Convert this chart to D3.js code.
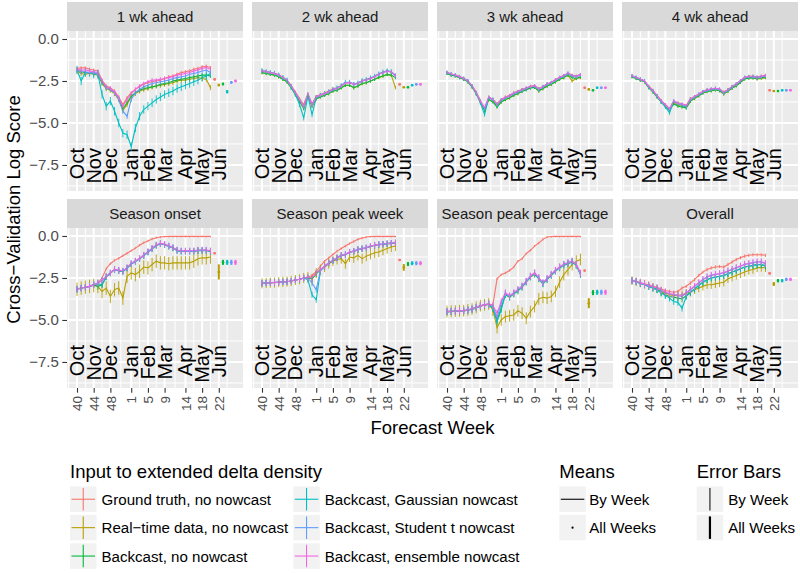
<!DOCTYPE html>
<html><head><meta charset="utf-8">
<script src="https://cdn.jsdelivr.net/npm/d3@7"></script>
<style>body{margin:0;background:#fff}svg{display:block;font-family:"Liberation Sans",Arial,sans-serif}</style>
</head><body><svg id="c" width="800" height="573"></svg>
<script>
// ---------- data ----------
const seriesNames = ["Ground truth, no nowcast","Real\u2212time data, no nowcast","Backcast, no nowcast","Backcast, Gaussian nowcast","Backcast, Student t nowcast","Backcast, ensemble nowcast"];
const seriesColors = ["#F8766D","#B79F00","#00BA38","#00BFC4","#619CFF","#F564E3"];
const panelTitles = ["1 wk ahead","2 wk ahead","3 wk ahead","4 wk ahead","Season onset","Season peak week","Season peak percentage","Overall"];
const seasonWeeks = [40,41,42,43,44,45,46,47,48,49,50,51,52,1,2,3,4,5,6,7,8,9,10,11,12,13,14,15,16,17,18,19,20];
const tickWeeks = [40,44,48,1,5,9,14,18,22];
const tickMonths = ["Oct","Nov","Dec","Jan","Feb","Mar","Apr","May","Jun"];
const yTickValues = [0,-2.5,-5,-7.5];

// 1 wk ahead
const wk1_truth    = [-1.75,-1.72,-1.72,-1.8,-1.85,-1.9,-2.45,-2.8,-2.9,-3.1,-3.45,-3.9,-3.5,-3.2,-3.0,-2.85,-2.7,-2.6,-2.55,-2.5,-2.45,-2.35,-2.25,-2.2,-2.1,-2.0,-1.95,-1.9,-1.8,-1.75,-1.65,-1.62,-1.7];
const wk1_realtime = [-1.9,-2.05,-2.1,-2.05,-2.1,-2.15,-2.65,-2.95,-3.05,-3.25,-3.6,-4.25,-3.9,-3.45,-3.25,-3.1,-3.0,-2.95,-2.85,-2.8,-2.75,-2.7,-2.65,-2.6,-2.5,-2.45,-2.45,-2.4,-2.35,-2.3,-2.35,-2.4,-2.9];
const wk1_backcast = [-1.85,-1.95,-2.0,-2.0,-2.05,-2.1,-2.6,-2.9,-3.0,-3.2,-3.55,-4.15,-3.8,-3.4,-3.2,-3.05,-2.95,-2.9,-2.85,-2.8,-2.7,-2.65,-2.6,-2.5,-2.45,-2.4,-2.35,-2.3,-2.25,-2.2,-2.15,-2.15,-2.2];
const wk1_gauss    = [-1.85,-2.5,-2.0,-2.0,-2.1,-2.1,-3.3,-4.0,-3.7,-4.3,-5.0,-5.6,-5.7,-6.4,-5.3,-4.6,-4.2,-4.0,-3.8,-3.6,-3.45,-3.3,-3.2,-3.1,-2.95,-2.85,-2.75,-2.65,-2.55,-2.45,-2.3,-2.2,-2.05];
const wk1_student  = [-1.85,-1.95,-1.95,-2.0,-2.0,-2.05,-2.55,-2.9,-3.0,-3.2,-3.6,-4.3,-4.6,-3.6,-3.2,-3.0,-2.85,-2.75,-2.65,-2.6,-2.55,-2.5,-2.45,-2.35,-2.3,-2.25,-2.2,-2.1,-2.05,-2.0,-1.9,-1.85,-2.0];
const wk1_ensemble = [-1.8,-1.85,-1.85,-1.9,-1.95,-2.0,-2.5,-2.85,-2.95,-3.15,-3.5,-4.0,-3.6,-3.25,-3.0,-2.8,-2.65,-2.55,-2.45,-2.45,-2.4,-2.35,-2.3,-2.25,-2.15,-2.1,-2.05,-2.0,-1.9,-1.85,-1.75,-1.7,-1.8];
const wk1_allMean  = [-2.4,-2.74,-2.68,-3.14,-2.58,-2.5];
const wk1_errWeek  = [0.1,0.15,0.12,0.25,0.15,0.12];
const wk1_errAll   = [0.08,0.08,0.08,0.1,0.08,0.08];

// 2 wk ahead
const wk2_truth    = [-1.88,-1.93,-2.0,-2.05,-2.12,-2.28,-2.45,-2.78,-3.15,-3.55,-3.9,-3.25,-3.85,-3.4,-3.3,-3.2,-3.1,-2.97,-2.9,-2.78,-2.6,-2.58,-2.68,-2.62,-2.48,-2.42,-2.33,-2.22,-2.08,-1.98,-1.9,-1.98,-2.15];
const wk2_realtime = [-2.0,-2.05,-2.1,-2.15,-2.25,-2.4,-2.55,-2.9,-3.3,-3.7,-4.1,-3.4,-4.0,-3.55,-3.45,-3.35,-3.25,-3.1,-3.05,-2.9,-2.75,-2.75,-2.9,-2.8,-2.65,-2.6,-2.5,-2.4,-2.3,-2.2,-2.1,-2.15,-2.9];
const wk2_backcast = [-2.0,-2.05,-2.1,-2.15,-2.25,-2.4,-2.55,-2.9,-3.3,-3.7,-4.15,-3.4,-4.0,-3.55,-3.45,-3.35,-3.25,-3.1,-3.05,-2.9,-2.75,-2.75,-2.9,-2.8,-2.65,-2.6,-2.5,-2.4,-2.28,-2.2,-2.12,-2.15,-2.3];
const wk2_gauss    = [-1.88,-1.95,-2.0,-2.05,-2.15,-2.3,-2.45,-2.85,-3.3,-3.9,-4.7,-3.4,-4.5,-3.5,-3.35,-3.25,-3.15,-3.0,-2.92,-2.78,-2.58,-2.58,-2.7,-2.62,-2.48,-2.42,-2.32,-2.22,-2.08,-1.98,-1.9,-1.95,-2.2];
const wk2_student  = [-1.9,-1.95,-2.0,-2.05,-2.15,-2.3,-2.45,-2.8,-3.2,-3.6,-4.0,-3.3,-3.9,-3.45,-3.35,-3.25,-3.15,-3.0,-2.95,-2.8,-2.6,-2.6,-2.7,-2.65,-2.5,-2.45,-2.35,-2.25,-2.1,-2.0,-1.9,-1.95,-2.2];
const wk2_ensemble = [-1.9,-1.95,-2.0,-2.05,-2.15,-2.3,-2.45,-2.8,-3.2,-3.6,-4.05,-3.3,-3.95,-3.45,-3.35,-3.25,-3.15,-3.0,-2.95,-2.8,-2.62,-2.6,-2.7,-2.65,-2.5,-2.45,-2.35,-2.25,-2.1,-2.0,-1.92,-1.95,-2.2];
const wk2_allMean  = [-2.7,-2.87,-2.87,-2.75,-2.7,-2.7];
const wk2_errWeek  = [0.08,0.1,0.1,0.15,0.1,0.08];
const wk2_errAll   = [0.06,0.06,0.06,0.06,0.06,0.06];

// 3 wk ahead
const wk3_truth    = [-2.0,-2.08,-2.15,-2.22,-2.35,-2.5,-2.78,-3.15,-3.65,-4.2,-3.45,-3.6,-3.85,-3.6,-3.45,-3.35,-3.2,-3.1,-3.0,-2.92,-2.82,-2.78,-2.95,-2.85,-2.68,-2.58,-2.42,-2.28,-2.18,-2.05,-2.15,-2.2,-2.1];
const wk3_realtime = [-2.05,-2.15,-2.2,-2.3,-2.4,-2.55,-2.85,-3.25,-3.75,-4.2,-3.6,-3.7,-4.0,-3.75,-3.6,-3.5,-3.35,-3.25,-3.1,-3.0,-2.9,-2.85,-3.1,-2.95,-2.8,-2.7,-2.55,-2.4,-2.3,-2.15,-2.5,-2.35,-2.3];
const wk3_backcast = [-2.05,-2.15,-2.2,-2.3,-2.4,-2.55,-2.85,-3.25,-3.75,-4.25,-3.6,-3.75,-4.05,-3.75,-3.6,-3.5,-3.35,-3.25,-3.12,-3.02,-2.92,-2.88,-3.08,-2.95,-2.8,-2.7,-2.55,-2.4,-2.3,-2.15,-2.3,-2.35,-2.25];
const wk3_gauss    = [-2.0,-2.1,-2.15,-2.25,-2.35,-2.5,-2.82,-3.25,-3.8,-4.5,-3.5,-3.6,-3.95,-3.65,-3.5,-3.4,-3.25,-3.15,-3.05,-2.95,-2.85,-2.8,-3.0,-2.85,-2.7,-2.6,-2.45,-2.3,-2.2,-2.05,-2.2,-2.25,-2.15];
const wk3_student  = [-2.0,-2.1,-2.15,-2.25,-2.35,-2.5,-2.8,-3.2,-3.7,-4.15,-3.5,-3.6,-3.9,-3.65,-3.5,-3.4,-3.25,-3.15,-3.05,-2.95,-2.85,-2.8,-3.0,-2.85,-2.7,-2.6,-2.45,-2.3,-2.2,-2.05,-2.2,-2.25,-2.15];
const wk3_ensemble = [-1.98,-2.08,-2.15,-2.25,-2.35,-2.5,-2.8,-3.2,-3.7,-4.1,-3.45,-3.6,-3.9,-3.62,-3.48,-3.38,-3.22,-3.12,-3.02,-2.92,-2.83,-2.78,-2.98,-2.83,-2.68,-2.58,-2.43,-2.28,-2.18,-2.03,-2.18,-2.22,-2.12];
const wk3_allMean  = [-2.9,-3.0,-3.05,-2.9,-2.9,-2.9];
const wk3_errWeek  = [0.08,0.1,0.1,0.12,0.1,0.08];
const wk3_errAll   = [0.06,0.06,0.06,0.06,0.06,0.06];

// 4 wk ahead
const wk4_truth    = [-2.18,-2.3,-2.38,-2.5,-2.8,-3.05,-3.35,-3.65,-3.9,-4.15,-3.7,-3.8,-3.85,-3.95,-3.55,-3.42,-3.28,-3.12,-3.03,-2.98,-2.95,-3.0,-3.15,-3.0,-2.82,-2.68,-2.48,-2.28,-2.22,-2.2,-2.25,-2.2,-2.15];
const wk4_realtime = [-2.25,-2.35,-2.45,-2.55,-2.9,-3.15,-3.45,-3.75,-4.0,-4.25,-3.8,-3.95,-4.0,-4.1,-3.7,-3.55,-3.38,-3.22,-3.12,-3.08,-3.02,-3.08,-3.28,-3.12,-2.92,-2.78,-2.58,-2.38,-2.32,-2.32,-2.38,-2.35,-2.3];
const wk4_backcast = [-2.25,-2.35,-2.45,-2.55,-2.9,-3.15,-3.45,-3.75,-4.0,-4.25,-3.85,-4.0,-4.05,-4.1,-3.7,-3.52,-3.38,-3.22,-3.12,-3.08,-3.02,-3.08,-3.25,-3.1,-2.92,-2.78,-2.58,-2.38,-2.32,-2.3,-2.35,-2.3,-2.28];
const wk4_gauss    = [-2.2,-2.3,-2.4,-2.5,-2.85,-3.1,-3.4,-3.75,-4.05,-4.4,-3.7,-3.85,-3.95,-4.05,-3.6,-3.45,-3.3,-3.15,-3.05,-3.0,-2.95,-3.0,-3.2,-3.05,-2.85,-2.7,-2.5,-2.3,-2.25,-2.25,-2.3,-2.25,-2.2];
const wk4_student  = [-2.2,-2.3,-2.4,-2.5,-2.85,-3.1,-3.4,-3.7,-3.95,-4.2,-3.7,-3.85,-3.9,-4.0,-3.6,-3.45,-3.3,-3.15,-3.05,-3.0,-2.95,-3.0,-3.2,-3.05,-2.85,-2.7,-2.5,-2.3,-2.25,-2.25,-2.3,-2.25,-2.2];
const wk4_ensemble = [-2.2,-2.28,-2.4,-2.5,-2.82,-3.08,-3.38,-3.68,-3.92,-4.15,-3.68,-3.82,-3.88,-3.98,-3.58,-3.43,-3.28,-3.13,-3.03,-2.98,-2.93,-2.98,-3.18,-3.03,-2.83,-2.68,-2.48,-2.28,-2.23,-2.23,-2.28,-2.23,-2.18];
const wk4_allMean  = [-3.05,-3.1,-3.1,-3.05,-3.05,-3.05];
const wk4_errWeek  = [0.08,0.1,0.1,0.12,0.1,0.08];
const wk4_errAll   = [0.06,0.06,0.06,0.06,0.06,0.06];

// Season onset
const onset_truth    = [-3.17,-3.1,-3.05,-3.0,-2.9,-2.8,-2.5,-1.95,-1.65,-1.45,-1.33,-1.18,-1.03,-0.88,-0.72,-0.55,-0.4,-0.3,-0.18,-0.1,-0.06,-0.03,-0.02,-0.02,-0.02,-0.02,-0.02,-0.02,-0.02,-0.02,-0.02,-0.02,-0.02];
const onset_realtime = [-3.17,-3.1,-3.05,-3.0,-2.95,-3.0,-3.3,-3.1,-3.6,-3.2,-3.1,-3.7,-2.4,-2.2,-2.3,-2.1,-1.85,-1.9,-1.7,-1.5,-1.6,-1.6,-1.65,-1.6,-1.6,-1.6,-1.6,-1.6,-1.5,-1.35,-1.3,-1.3,-1.25];
const onset_backcast = [-3.17,-3.1,-3.05,-3.0,-2.9,-3.0,-2.9,-2.45,-2.22,-2.0,-2.08,-2.12,-1.92,-1.67,-1.52,-1.37,-1.17,-0.97,-0.77,-0.57,-0.47,-0.52,-0.62,-0.72,-0.87,-0.92,-0.92,-0.92,-0.92,-0.88,-0.88,-0.88,-0.92];
const onset_gauss    = [-3.17,-3.1,-3.05,-3.0,-2.9,-2.85,-2.9,-2.42,-2.2,-2.0,-2.05,-2.1,-1.9,-1.65,-1.5,-1.35,-1.15,-0.95,-0.75,-0.55,-0.45,-0.5,-0.6,-0.7,-0.85,-0.9,-0.9,-0.9,-0.9,-0.85,-0.85,-0.85,-0.9];
const onset_student  = [-3.17,-3.1,-3.05,-3.0,-2.9,-2.8,-2.65,-2.4,-2.2,-2.0,-2.05,-2.1,-1.9,-1.65,-1.5,-1.35,-1.15,-0.95,-0.75,-0.55,-0.45,-0.5,-0.6,-0.7,-0.85,-0.9,-0.9,-0.9,-0.9,-0.85,-0.85,-0.85,-0.9];
const onset_ensemble = [-3.17,-3.1,-3.05,-3.0,-2.9,-2.8,-2.65,-2.4,-2.2,-1.98,-2.03,-2.08,-1.88,-1.63,-1.48,-1.33,-1.13,-0.93,-0.73,-0.53,-0.43,-0.48,-0.58,-0.68,-0.83,-0.88,-0.88,-0.88,-0.88,-0.83,-0.83,-0.83,-0.88];
const onset_allMean  = [-1.03,-2.14,-1.57,-1.57,-1.57,-1.57];
const onset_errWeek  = [0.07,0.4,0.18,0.18,0.2,0.18];
const onset_errAll   = [0.05,0.45,0.15,0.15,0.15,0.15];

// Season peak week
const pkwk_truth    = [-2.82,-2.8,-2.78,-2.77,-2.75,-2.73,-2.72,-2.68,-2.62,-2.58,-2.5,-2.45,-2.35,-2.1,-1.8,-1.5,-1.3,-1.1,-0.9,-0.75,-0.6,-0.45,-0.33,-0.2,-0.12,-0.06,-0.03,-0.02,-0.02,-0.02,-0.02,-0.02,-0.02];
const pkwk_realtime = [-2.82,-2.8,-2.78,-2.77,-2.75,-2.73,-2.72,-2.68,-2.62,-2.58,-2.5,-2.45,-2.55,-2.2,-2.0,-1.85,-1.65,-1.5,-1.4,-1.35,-1.65,-1.25,-1.3,-1.15,-1.35,-1.2,-1.1,-1.0,-0.95,-0.85,-0.75,-0.65,-0.6];
const pkwk_backcast = [-2.82,-2.8,-2.78,-2.77,-2.75,-2.73,-2.72,-2.68,-2.62,-2.58,-2.5,-2.48,-2.55,-2.25,-2.02,-1.82,-1.62,-1.47,-1.32,-1.17,-1.12,-0.97,-0.92,-0.82,-0.77,-0.72,-0.62,-0.57,-0.52,-0.5,-0.47,-0.44,-0.42];
const pkwk_gauss    = [-2.82,-2.8,-2.78,-2.77,-2.75,-2.73,-2.72,-2.68,-2.62,-2.58,-2.5,-2.6,-3.5,-3.8,-2.1,-1.8,-1.6,-1.45,-1.3,-1.15,-1.1,-0.95,-0.9,-0.8,-0.75,-0.7,-0.6,-0.55,-0.5,-0.48,-0.45,-0.42,-0.4];
const pkwk_student  = [-2.82,-2.8,-2.78,-2.77,-2.75,-2.73,-2.72,-2.68,-2.62,-2.58,-2.5,-2.5,-2.8,-3.2,-2.05,-1.8,-1.6,-1.45,-1.3,-1.15,-1.1,-0.95,-0.9,-0.8,-0.75,-0.7,-0.6,-0.55,-0.5,-0.48,-0.45,-0.42,-0.4];
const pkwk_ensemble = [-2.82,-2.8,-2.78,-2.77,-2.75,-2.73,-2.72,-2.68,-2.62,-2.58,-2.5,-2.45,-2.5,-2.2,-2.0,-1.8,-1.6,-1.45,-1.3,-1.15,-1.1,-0.95,-0.9,-0.8,-0.75,-0.7,-0.6,-0.55,-0.5,-0.48,-0.45,-0.42,-0.4];
const pkwk_allMean  = [-1.43,-1.87,-1.67,-1.62,-1.62,-1.62];
const pkwk_errWeek  = [0.07,0.3,0.18,0.18,0.18,0.18];
const pkwk_errAll   = [0.05,0.2,0.12,0.12,0.12,0.12];

// Season peak percentage
const pkpct_truth    = [-4.5,-4.48,-4.47,-4.45,-4.45,-4.4,-4.35,-4.25,-4.15,-4.1,-4.05,-4.1,-2.55,-2.3,-2.2,-2.05,-1.85,-1.5,-1.35,-1.05,-0.85,-0.6,-0.42,-0.2,-0.06,-0.03,-0.02,-0.02,-0.02,-0.02,-0.02,-0.02,-0.02];
const pkpct_realtime = [-4.5,-4.48,-4.47,-4.45,-4.45,-4.4,-4.35,-4.25,-4.15,-4.1,-4.05,-4.4,-5.45,-5.0,-4.8,-4.75,-4.7,-4.45,-4.6,-4.9,-4.5,-4.2,-3.75,-3.65,-3.7,-3.6,-3.3,-2.75,-2.3,-2.0,-1.7,-1.5,-1.4];
const pkpct_backcast = [-4.52,-4.5,-4.48,-4.47,-4.46,-4.42,-4.37,-4.28,-4.18,-4.12,-4.08,-4.3,-5.0,-4.3,-3.5,-3.65,-3.45,-3.28,-3.05,-2.75,-2.45,-2.28,-2.55,-2.85,-2.6,-2.35,-2.1,-1.9,-1.75,-1.65,-1.55,-1.75,-2.3];
const pkpct_gauss    = [-4.5,-4.48,-4.47,-4.45,-4.45,-4.4,-4.35,-4.25,-4.15,-4.1,-4.05,-4.3,-5.1,-4.4,-3.45,-3.6,-3.42,-3.22,-3.02,-2.72,-2.42,-2.22,-2.52,-2.82,-2.57,-2.32,-2.07,-1.87,-1.72,-1.62,-1.52,-1.72,-2.27];
const pkpct_student  = [-4.5,-4.48,-4.47,-4.45,-4.45,-4.4,-4.35,-4.25,-4.15,-4.1,-4.05,-4.2,-4.85,-4.0,-3.4,-3.6,-3.4,-3.2,-3.0,-2.7,-2.4,-2.2,-2.5,-2.8,-2.55,-2.3,-2.05,-1.85,-1.7,-1.6,-1.5,-1.7,-2.25];
const pkpct_ensemble = [-4.5,-4.48,-4.47,-4.45,-4.45,-4.4,-4.35,-4.25,-4.15,-4.1,-4.05,-4.15,-4.6,-3.9,-3.38,-3.55,-3.38,-3.18,-2.98,-2.68,-2.38,-2.18,-2.48,-2.78,-2.53,-2.28,-2.03,-1.83,-1.68,-1.58,-1.5,-1.68,-2.2];
const pkpct_allMean  = [-2.06,-4.0,-3.37,-3.35,-3.35,-3.35];
const pkpct_errWeek  = [0.07,0.35,0.2,0.2,0.2,0.2];
const pkpct_errAll   = [0.05,0.3,0.15,0.15,0.15,0.15];

// Overall
const all_truth    = [-2.66,-2.7,-2.78,-2.85,-2.9,-3.0,-3.05,-3.15,-3.25,-3.3,-3.35,-3.3,-3.1,-3.0,-2.8,-2.6,-2.35,-2.15,-2.0,-1.9,-1.85,-1.82,-1.85,-1.7,-1.55,-1.4,-1.3,-1.2,-1.15,-1.12,-1.12,-1.12,-1.15];
const all_realtime = [-2.66,-2.72,-2.8,-2.88,-2.95,-3.05,-3.15,-3.3,-3.4,-3.5,-3.55,-3.55,-3.5,-3.4,-3.35,-3.2,-3.1,-3.0,-2.9,-2.9,-2.85,-2.8,-2.75,-2.55,-2.45,-2.35,-2.25,-2.15,-2.05,-2.0,-1.9,-1.87,-1.9];
const all_backcast = [-2.66,-2.72,-2.82,-2.9,-3.0,-3.1,-3.2,-3.35,-3.5,-3.6,-3.65,-3.7,-3.75,-3.55,-3.35,-3.15,-2.95,-2.75,-2.6,-2.5,-2.45,-2.4,-2.35,-2.25,-2.15,-2.05,-1.95,-1.85,-1.8,-1.75,-1.7,-1.7,-1.8];
const all_gauss    = [-2.66,-2.72,-2.82,-2.9,-3.0,-3.1,-3.2,-3.4,-3.55,-3.7,-3.9,-3.95,-4.3,-3.6,-3.35,-3.15,-2.95,-2.75,-2.6,-2.5,-2.45,-2.4,-2.35,-2.25,-2.15,-2.05,-1.95,-1.85,-1.8,-1.75,-1.72,-1.7,-1.75];
const all_student  = [-2.66,-2.72,-2.8,-2.88,-2.95,-3.05,-3.1,-3.25,-3.35,-3.45,-3.5,-3.55,-3.6,-3.4,-3.2,-3.0,-2.8,-2.6,-2.45,-2.35,-2.3,-2.25,-2.2,-2.1,-2.0,-1.9,-1.8,-1.7,-1.65,-1.6,-1.55,-1.55,-1.65];
const all_ensemble = [-2.66,-2.7,-2.78,-2.86,-2.93,-3.03,-3.08,-3.22,-3.33,-3.42,-3.48,-3.52,-3.55,-3.38,-3.18,-2.98,-2.78,-2.58,-2.43,-2.33,-2.28,-2.23,-2.18,-2.08,-1.98,-1.88,-1.78,-1.68,-1.63,-1.58,-1.53,-1.53,-1.62];
const all_allMean  = [-2.22,-2.86,-2.66,-2.66,-2.58,-2.58];
const all_errWeek  = [0.1,0.25,0.2,0.2,0.2,0.2];
const all_errAll   = [0.08,0.12,0.1,0.1,0.1,0.1];

// ---------- assemble ----------
const panels = [
  {series:[wk1_truth,wk1_realtime,wk1_backcast,wk1_gauss,wk1_student,wk1_ensemble], mean:wk1_allMean, errW:wk1_errWeek, errA:wk1_errAll},
  {series:[wk2_truth,wk2_realtime,wk2_backcast,wk2_gauss,wk2_student,wk2_ensemble], mean:wk2_allMean, errW:wk2_errWeek, errA:wk2_errAll},
  {series:[wk3_truth,wk3_realtime,wk3_backcast,wk3_gauss,wk3_student,wk3_ensemble], mean:wk3_allMean, errW:wk3_errWeek, errA:wk3_errAll},
  {series:[wk4_truth,wk4_realtime,wk4_backcast,wk4_gauss,wk4_student,wk4_ensemble], mean:wk4_allMean, errW:wk4_errWeek, errA:wk4_errAll},
  {series:[onset_truth,onset_realtime,onset_backcast,onset_gauss,onset_student,onset_ensemble], mean:onset_allMean, errW:onset_errWeek, errA:onset_errAll},
  {series:[pkwk_truth,pkwk_realtime,pkwk_backcast,pkwk_gauss,pkwk_student,pkwk_ensemble], mean:pkwk_allMean, errW:pkwk_errWeek, errA:pkwk_errAll},
  {series:[pkpct_truth,pkpct_realtime,pkpct_backcast,pkpct_gauss,pkpct_student,pkpct_ensemble], mean:pkpct_allMean, errW:pkpct_errWeek, errA:pkpct_errAll},
  {series:[all_truth,all_realtime,all_backcast,all_gauss,all_student,all_ensemble], mean:all_allMean, errW:all_errWeek, errA:all_errAll}
];

function weekIndex(w){ return w >= seasonWeeks[0] ? w - seasonWeeks[0] : w + (52 - seasonWeeks[0]); }

// ---------- layout ----------
const svg = d3.select("#c");
svg.append("rect").attr("width",800).attr("height",573).attr("fill","#fff");
const panelLefts = [67,252,437,622];
const rowTops = [31,228];
const PW = 176, PH = 160, SH = 29;

const x = d3.scaleLinear().domain([-2.4, 39.8]).range([0, PW]);
const y = d3.scaleLinear().domain([-9.05, 0.476]).range([PH, 0]);

const tickIdx = tickWeeks.map(weekIndex);
const minorX = [];
for (let i=0;i<tickIdx.length-1;i++) minorX.push((tickIdx[i]+tickIdx[i+1])/2);
minorX.push(tickIdx[0]-(tickIdx[1]-tickIdx[0])/2);
minorX.push(tickIdx[tickIdx.length-1]+(tickIdx[tickIdx.length-1]-tickIdx[tickIdx.length-2])/2);
const minorY = [];
for (let i=0;i<yTickValues.length-1;i++) minorY.push((yTickValues[i]+yTickValues[i+1])/2);
minorY.push(yTickValues[yTickValues.length-1]-1.25);
const [xd0,xd1] = x.domain(), [yd0,yd1] = y.domain();

panels.forEach((p, pi) => {
  const col = pi % 4, row = Math.floor(pi/4);
  const g = svg.append("g").attr("transform", `translate(${panelLefts[col]},${rowTops[row]})`);
  // strip
  g.append("rect").attr("x",0).attr("y",-SH).attr("width",PW).attr("height",SH).attr("fill","#D9D9D9");
  g.append("text").attr("x",PW/2).attr("y",-SH/2).attr("text-anchor","middle").attr("dominant-baseline","central")
    .style("font-size","15px").attr("fill","#1A1A1A").text(panelTitles[pi]);
  // panel
  g.append("rect").attr("width",PW).attr("height",PH).attr("fill","#EBEBEB");
  minorY.filter(v=>v>yd0&&v<yd1).forEach(v=>g.append("line").attr("x1",0).attr("x2",PW).attr("y1",y(v)).attr("y2",y(v)).attr("stroke","#fff").attr("stroke-width",1));
  minorX.filter(v=>v>xd0&&v<xd1).forEach(v=>g.append("line").attr("y1",0).attr("y2",PH).attr("x1",x(v)).attr("x2",x(v)).attr("stroke","#fff").attr("stroke-width",1));
  yTickValues.forEach(v=>g.append("line").attr("x1",0).attr("x2",PW).attr("y1",y(v)).attr("y2",y(v)).attr("stroke","#fff").attr("stroke-width",2));
  tickIdx.forEach(v=>g.append("line").attr("y1",0).attr("y2",PH).attr("x1",x(v)).attr("x2",x(v)).attr("stroke","#fff").attr("stroke-width",2));
  // month labels
  tickIdx.forEach((v,i)=>{
    g.append("text").attr("transform",`translate(${x(v)},117) rotate(-90)`).attr("text-anchor","end")
      .attr("dominant-baseline","central").style("font-size","20px").attr("fill","#000").text(tickMonths[i]);
  });
  const clip = g.append("g");
  // lines
  const line = d3.line().x((d,i)=>x(i)).y(d=>y(d));
  p.series.forEach((s,si)=>{
    clip.append("path").datum(s).attr("d",line).attr("fill","none").attr("stroke",seriesColors[si]).attr("stroke-width",1.1);
  });
  // weekly error bars
  p.series.forEach((s,si)=>{
    s.forEach((v,i)=>{
      clip.append("line").attr("x1",x(i)).attr("x2",x(i)).attr("y1",y(v-p.errW[si])).attr("y2",y(Math.min(0,v+p.errW[si])))
        .attr("stroke",seriesColors[si]).attr("stroke-width",0.9);
    });
  });
  // all-weeks means
  const n = seasonWeeks.length;
  p.mean.forEach((m,si)=>{
    const xi = x(n + si);
    clip.append("line").attr("x1",xi).attr("x2",xi).attr("y1",y(m-p.errA[si])).attr("y2",y(m+p.errA[si]))
      .attr("stroke",seriesColors[si]).attr("stroke-width",2);
    clip.append("circle").attr("cx",xi).attr("cy",y(m)).attr("r",1.3).attr("fill",seriesColors[si]);
  });
  // y axis
  if (col === 0) {
    const ax = g.append("g").call(d3.axisLeft(y).tickValues(yTickValues).tickFormat(d3.format(".1f")).tickSize(4.7).tickPadding(3.5));
    ax.select(".domain").remove();
    ax.selectAll("line").attr("stroke","#333").attr("stroke-width",1.1);
    ax.selectAll("text").attr("fill","#4D4D4D").style("font-size","15px").style("font-family","Liberation Sans, Arial, sans-serif");
  }
  // x axis
  if (row === 1) {
    const ax = g.append("g").attr("transform",`translate(0,${PH})`)
      .call(d3.axisBottom(x).tickValues(tickIdx).tickFormat((d,i)=>tickWeeks[i]).tickSize(4.7).tickPadding(3));
    ax.select(".domain").remove();
    ax.selectAll("line").attr("stroke","#333").attr("stroke-width",1.1);
    ax.selectAll("text").attr("fill","#4D4D4D").style("font-size","13.5px").style("font-family","Liberation Sans, Arial, sans-serif")
      .attr("transform","rotate(-90)").attr("text-anchor","end").attr("dy","0.35em").attr("x",-8).attr("y",0);
  }
});

// axis titles
svg.append("text").attr("x",432.5).attr("y",434).attr("text-anchor","middle").style("font-size","18.5px").attr("fill","#000").text("Forecast Week");
svg.append("text").attr("transform","translate(13,209.5) rotate(-90)").attr("text-anchor","middle").attr("dominant-baseline","central")
  .style("font-size","18.5px").attr("fill","#000").text("Cross\u2212Validation Log Score");

// legend: series
const lg = svg.append("g");
lg.append("text").attr("x",70).attr("y",478).style("font-size","18.5px").attr("fill","#000").text("Input to extended delta density");
const keyW = 26.5, keyH = 25.5, rowStep = 28.4;
seriesNames.forEach((nm,i)=>{
  const c = Math.floor(i/3), r = i%3;
  const kx = [70,293.3][c], ky = 486.5 + r*rowStep;
  lg.append("rect").attr("x",kx).attr("y",ky).attr("width",keyW).attr("height",keyH).attr("fill","#F2F2F2");
  lg.append("line").attr("x1",kx+1.5).attr("x2",kx+keyW-1.5).attr("y1",ky+keyH/2).attr("y2",ky+keyH/2).attr("stroke",seriesColors[i]).attr("stroke-width",1.1);
  lg.append("line").attr("x1",kx+keyW/2).attr("x2",kx+keyW/2).attr("y1",ky+1.5).attr("y2",ky+keyH-1.5).attr("stroke",seriesColors[i]).attr("stroke-width",1.1);
  lg.append("text").attr("x",kx+keyW+5).attr("y",ky+keyH/2).attr("dominant-baseline","central").style("font-size","15.1px").attr("fill","#000").text(nm);
});
// legend: means
const meansLabels = ["By Week","All Weeks"];
lg.append("text").attr("x",559.3).attr("y",478).style("font-size","18.5px").attr("fill","#000").text("Means");
meansLabels.forEach((nm,i)=>{
  const kx = 559.3, ky = 486.5 + i*rowStep;
  lg.append("rect").attr("x",kx).attr("y",ky).attr("width",keyW).attr("height",keyH).attr("fill","#F2F2F2");
  if (i===0) lg.append("line").attr("x1",kx+1.5).attr("x2",kx+keyW-1.5).attr("y1",ky+keyH/2).attr("y2",ky+keyH/2).attr("stroke","#000").attr("stroke-width",1.1);
  else lg.append("circle").attr("cx",kx+keyW/2).attr("cy",ky+keyH/2).attr("r",1.1).attr("fill","#000");
  lg.append("text").attr("x",kx+keyW+3.5).attr("y",ky+keyH/2).attr("dominant-baseline","central").style("font-size","15.1px").attr("fill","#000").text(nm);
});
// legend: error bars
lg.append("text").attr("x",696.7).attr("y",478).style("font-size","18.5px").attr("fill","#000").text("Error Bars");
meansLabels.forEach((nm,i)=>{
  const kx = 696.7, ky = 486.5 + i*rowStep;
  lg.append("rect").attr("x",kx).attr("y",ky).attr("width",keyW).attr("height",keyH).attr("fill","#F2F2F2");
  lg.append("line").attr("x1",kx+keyW/2).attr("x2",kx+keyW/2).attr("y1",ky+1.5).attr("y2",ky+keyH-1.5).attr("stroke","#000").attr("stroke-width",i===0?1:2.2);
  lg.append("text").attr("x",kx+keyW+5).attr("y",ky+keyH/2).attr("dominant-baseline","central").style("font-size","15.1px").attr("fill","#000").text(nm);
});
</script>
</body></html>
